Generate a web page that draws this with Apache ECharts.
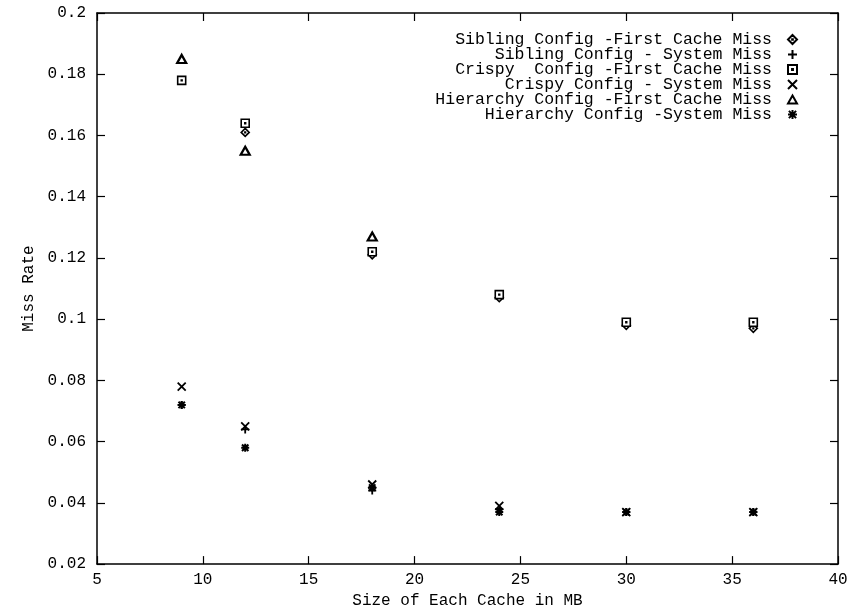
<!DOCTYPE html>
<html>
<head>
<meta charset="utf-8">
<script src="https://cdn.jsdelivr.net/npm/echarts@6/dist/echarts.min.js"></script>
<style>html,body{margin:0;padding:0;background:#fff}#c{width:853px;height:614px}</style>
</head>
<body>
<div id="c"></div>
<script>
const cacheSizes = [9, 12, 18, 24, 30, 36];
const seriesNames = [
  'Sibling Config -First Cache Miss',
  'Sibling Config - System Miss',
  'Crispy  Config -First Cache Miss',
  'Crispy Config - System Miss',
  'Hierarchy Config -First Cache Miss',
  'Hierarchy Config -System Miss'
];
const siblingFirst   = [null, 0.161, 0.121, 0.107, 0.098, 0.097];
const siblingSystem  = [0.072, 0.064, 0.044, 0.038, 0.037, 0.037];
const crispyFirst    = [0.178, 0.164, 0.122, 0.108, 0.099, 0.099];
const crispySystem   = [0.078, 0.065, 0.046, 0.039, 0.037, 0.037];
const hierFirst      = [0.185, 0.155, 0.127, null, null, null];
const hierSystem     = [0.072, 0.058, 0.045, 0.037, 0.037, 0.037];
const xTicks = [5, 10, 15, 20, 25, 30, 35, 40];
const yTicks = [0.02, 0.04, 0.06, 0.08, 0.1, 0.12, 0.14, 0.16, 0.18, 0.2];

const FONT = 'Liberation Mono';
const symbols = [
  'path://M5,0L10,5L5,10L0,5Z M4.6,4.6H5.4V5.4H4.6Z',
  'path://M5,0L5,10M0,5L10,5',
  'path://M0,0H10V10H0Z M4.5,4.5H5.5V5.5H4.5Z',
  'path://M0,0L10,10M0,10L10,0',
  'path://M5,0L10,9L0,9Z',
  'path://M5,0L5,10M0,5L10,5M1,1L9,9M1,9L9,1'
];
const allData = [siblingFirst, siblingSystem, crispyFirst, crispySystem, hierFirst, hierSystem];
const borderWidths = [1.6, 1.8, 1.6, 1.8, 2.2, 2.0];

const series = seriesNames.map((n, i) => ({
  name: n,
  type: 'scatter',
  symbol: symbols[i],
  symbolSize: i === 4 ? [9, 8] : 8,
  data: cacheSizes.map((x, j) => allData[i][j] == null ? null : [x, allData[i][j]]).filter(d => d),
  itemStyle: { color: '#fff', borderColor: '#000', borderWidth: borderWidths[i], opacity: 1 },
  emphasis: { disabled: true },
  animation: false
}));

const axisCommonX = {
  type: 'value', min: 5, max: 40, interval: 5,
  axisLine: { show: true, lineStyle: { color: '#000', width: 1.5 } },
  axisTick: { show: true, inside: true, length: 8, lineStyle: { color: '#000', width: 1.2 } },
  splitLine: { show: false }
};
const axisCommonY = {
  type: 'value', min: 0.02, max: 0.2, interval: 0.02,
  axisLine: { show: true, lineStyle: { color: '#000', width: 1.5 } },
  axisTick: { show: true, inside: true, length: 8, lineStyle: { color: '#000', width: 1.2 } },
  splitLine: { show: false }
};

const chart = echarts.init(document.getElementById('c'), null, { renderer: 'canvas' });
chart.setOption({
  backgroundColor: '#fff',
  animation: false,
  grid: { left: 97, right: 15, top: 13, bottom: 42, show: false },
  legend: {
    orient: 'vertical', align: 'right', right: 50, top: 26,
    itemWidth: 9, itemHeight: 9, itemGap: -2,
    selectedMode: false,
    textStyle: { fontFamily: FONT, fontSize: 16.5, color: '#000', padding: [0, 11, 0, 0] },
    data: seriesNames.map(n => ({ name: n }))
  },
  xAxis: [
    Object.assign({}, axisCommonX, {
      position: 'bottom',
      name: 'Size of Each Cache in MB', nameLocation: 'middle', nameGap: 24,
      nameTextStyle: { fontFamily: FONT, fontSize: 16, color: '#000' },
      axisLabel: { show: true, fontFamily: FONT, fontSize: 16, color: '#000', margin: 8,
        formatter: v => xTicks.includes(v) ? String(v) : '' }
    }),
    Object.assign({}, axisCommonX, { position: 'top', axisLabel: { show: false } })
  ],
  yAxis: [
    Object.assign({}, axisCommonY, {
      position: 'left',
      name: 'Miss Rate', nameLocation: 'middle', nameGap: 58, nameRotate: 90,
      nameTextStyle: { fontFamily: FONT, fontSize: 16, color: '#000' },
      axisLabel: { show: true, fontFamily: FONT, fontSize: 16, color: '#000', margin: 11,
        formatter: v => { const t = yTicks.find(y => Math.abs(y - v) < 1e-9); return t == null ? '' : String(t); } }
    }),
    Object.assign({}, axisCommonY, { position: 'right', axisLabel: { show: false } })
  ],
  series: series
});
</script>
</body>
</html>
